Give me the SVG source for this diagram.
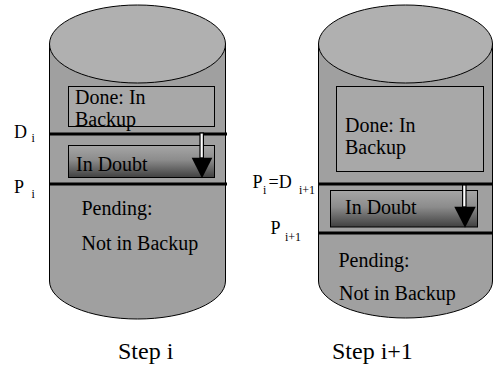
<svg xmlns="http://www.w3.org/2000/svg" width="493" height="370" viewBox="0 0 493 370">
<defs>
<linearGradient id="doubt" x1="0" y1="0" x2="0" y2="1">
<stop offset="0" stop-color="#a6a6a6"/>
<stop offset="0.45" stop-color="#8c8c8c"/>
<stop offset="1" stop-color="#404040"/>
</linearGradient>
<style>
.body{fill:#a0a0a0;stroke:#000;stroke-width:1}
.top{fill:#b0b0b0;stroke:#000;stroke-width:1}
.done{fill:#a8a8a8;stroke:#000;stroke-width:1}
.doubt{fill:url(#doubt);stroke:#000;stroke-width:1}
.sep{stroke:#000;stroke-width:3}
.t{font-family:"Liberation Serif","Times New Roman",serif;font-size:20px;fill:#000}
.lb{font-family:"Liberation Serif","Times New Roman",serif;font-size:18px;fill:#000}
.sb{font-family:"Liberation Serif","Times New Roman",serif;font-size:12px;fill:#000}
.st{font-family:"Liberation Serif","Times New Roman",serif;font-size:24px;fill:#000}
.shaft{fill:#fff;stroke:#000;stroke-width:1.2}
.head{fill:#000}
</style>
</defs>
<g id="cylinder-step-i">
<path class="body" d="M49.5,44 L49.5,281 A88,38 0 0 0 225.5,281 L225.5,44 Z"/>
<ellipse class="top" cx="137.5" cy="44" rx="88" ry="39"/>
</g>
<g id="cylinder-step-i1">
<path class="body" d="M318.5,44 L318.5,281 A87,37 0 0 0 492.5,281 L492.5,44 Z"/>
<ellipse class="top" cx="405.5" cy="44" rx="87" ry="39"/>
</g>
<g id="done-i">
<rect class="done" x="68.5" y="86.5" width="146" height="40"/>
<text class="t" x="75" y="103.5">Done: In</text>
<text class="t" x="75" y="125.5">Backup</text>
</g>
<g id="doubt-i">
<rect class="doubt" x="68.5" y="145.5" width="146" height="32"/>
<text class="t" x="76" y="170.5">In Doubt</text>
</g>
<g id="pending-i">
<text class="t" x="81.5" y="215">Pending:</text>
<text class="t" x="81.5" y="250">Not in Backup</text>
</g>
<g id="done-i1">
<rect class="done" x="336.5" y="86.5" width="147" height="85"/>
<text class="t" x="345" y="132">Done: In</text>
<text class="t" x="345" y="154">Backup</text>
</g>
<g id="doubt-i1">
<rect class="doubt" x="330.5" y="190.5" width="147" height="36.5"/>
<text class="t" x="345" y="213.5">In Doubt</text>
</g>
<g id="pending-i1">
<text class="t" x="338.5" y="267">Pending:</text>
<text class="t" x="339" y="300">Not in Backup</text>
</g>
<g id="separators">
<line class="sep" x1="49" y1="134" x2="227" y2="134"/>
<line class="sep" x1="49" y1="184" x2="227" y2="184"/>
<line class="sep" x1="318" y1="184" x2="493" y2="184"/>
<line class="sep" x1="318" y1="233" x2="493" y2="233"/>
</g>
<g id="labels">
<text class="lb" x="14" y="138">D</text><text class="sb" x="31.5" y="142">i</text>
<text class="lb" x="14" y="193">P</text><text class="sb" x="31.5" y="198">i</text>
<text class="lb" x="252.5" y="187.5">P</text><text class="sb" x="263" y="194">i</text>
<text class="lb" x="268.5" y="187.5">=D</text><text class="sb" x="299" y="194">i+1</text>
<text class="lb" x="270.5" y="234">P</text><text class="sb" x="285" y="241">i+1</text>
</g>
<g id="connectors">
<rect class="shaft" x="200" y="133" width="3.4" height="25"/>
<polygon class="head" points="191.7,157.7 212.3,157.7 202,178.3"/>
<rect class="shaft" x="462.6" y="185" width="3.4" height="22"/>
<polygon class="head" points="454.3,206.7 475.7,206.7 465,227.7"/>
</g>
<g id="captions">
<text class="st" x="118" y="359">Step i</text>
<text class="st" x="332" y="359">Step i+1</text>
</g>
</svg>
